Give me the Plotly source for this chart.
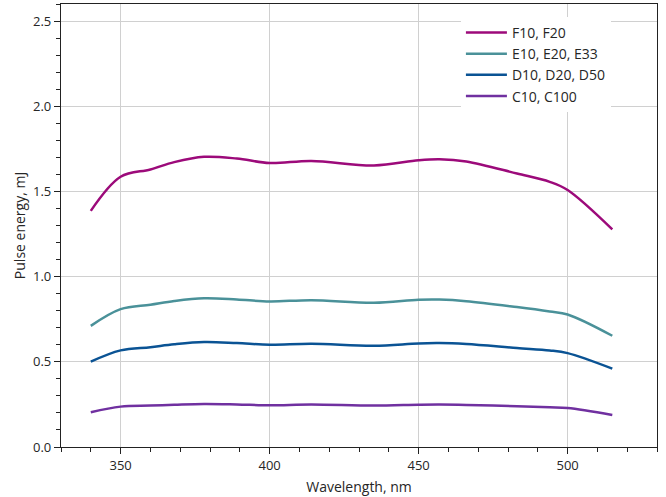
import plotly.graph_objects as go

wavelength = [340, 350, 360, 368, 378, 389, 400, 414, 435, 450, 457, 466, 483, 494, 500, 515]
f_series = [1.386, 1.586, 1.629, 1.672, 1.703, 1.693, 1.667, 1.679, 1.652, 1.683, 1.689, 1.676, 1.605, 1.556, 1.508, 1.277]
e_series = [0.711, 0.809, 0.835, 0.857, 0.873, 0.866, 0.854, 0.862, 0.846, 0.864, 0.865, 0.856, 0.821, 0.795, 0.778, 0.653]
d_series = [0.501, 0.567, 0.586, 0.603, 0.616, 0.610, 0.600, 0.606, 0.594, 0.608, 0.610, 0.604, 0.581, 0.567, 0.551, 0.460]
c_series = [0.204, 0.237, 0.243, 0.248, 0.253, 0.250, 0.245, 0.249, 0.243, 0.248, 0.249, 0.247, 0.239, 0.233, 0.229, 0.188]

names = ["F10, F20", "E10, E20, E33", "D10, D20, D50", "C10, C100"]
colors = ["#9c0a7a", "#4a9199", "#0a5394", "#7030a0"]
series = [f_series, e_series, d_series, c_series]

FONT = "Open Sans, Lato, sans-serif"
TEXT = "#262626"

fig = go.Figure()
for name, color, vals in zip(names, colors, series):
    fig.add_trace(go.Scatter(
        x=wavelength, y=vals, mode="lines", name=name,
        line=dict(color=color, width=2.5, shape="spline", smoothing=1.0),
    ))

axis_common = dict(
    showline=True, linecolor="#222222", linewidth=1.3, mirror=True,
    ticks="outside", ticklen=6, tickcolor="#222222", tickwidth=1,
    showgrid=True, gridcolor="#d0d0d0", gridwidth=1,
    zeroline=False,
    tickfont=dict(family=FONT, size=13, color=TEXT),
)

fig.update_layout(
    width=666, height=497,
    margin=dict(l=61, r=9, t=4, b=50),
    paper_bgcolor="white", plot_bgcolor="white",
    font=dict(family=FONT, size=14, color=TEXT),
    xaxis=dict(
        range=[330, 530], dtick=50, tick0=350,
        minor=dict(dtick=10, ticks="outside", ticklen=3.5, tickcolor="#222222", showgrid=False),
        title=dict(text="Wavelength, nm", font=dict(family=FONT, size=14, color=TEXT), standoff=9),
        **axis_common,
    ),
    yaxis=dict(
        range=[0, 2.6], dtick=0.5, tickformat=".1f",
        minor=dict(dtick=0.1, ticks="outside", ticklen=3.5, tickcolor="#222222", showgrid=False),
        title=dict(text="Pulse energy, mJ", font=dict(family=FONT, size=14, color=TEXT), standoff=4),
        **axis_common,
    ),
    legend=dict(
        x=0.671, y=0.971, xanchor="left", yanchor="top",
        bgcolor="white", borderwidth=0,
        font=dict(family=FONT, size=14, color=TEXT),
        itemwidth=41,
    ),
    showlegend=True,
)

fig.write_html("out.html", config={"displayModeBar": False},
               post_script="document.body.style.margin='0';")
